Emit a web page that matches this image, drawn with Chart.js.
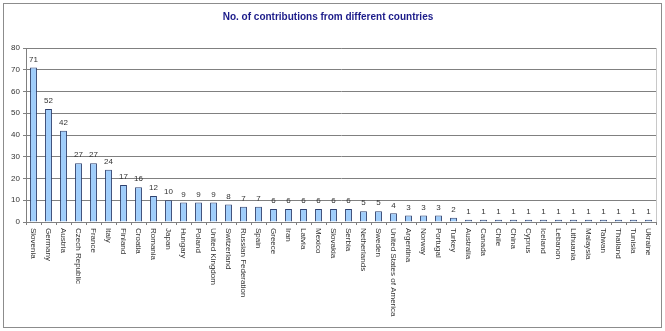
<!DOCTYPE html>
<html>
<head>
<meta charset="utf-8">
<script src="https://cdn.jsdelivr.net/npm/chart.js@4"></script>
<style>
  html, body { margin: 0; padding: 0; background: #fff; }
  #wrap { width: 665px; height: 331px; }
</style>
</head>
<body>
<div id="wrap"><canvas id="graph"></canvas></div>
<script>
const countries = [
  "Slovenia", "Germany", "Austria", "Czech Republic", "France", "Italy", "Finland",
  "Croatia", "Romania", "Japan", "Hungary", "Poland", "United Kingdom", "Switzerland",
  "Russian Federation", "Spain", "Greece", "Iran", "Latvia", "Mexico", "Slovakia",
  "Serbia", "Netherlands", "Sweden", "United States of America", "Argentina", "Norway",
  "Portugal", "Turkey", "Australia", "Canada", "Chile", "China", "Cyprus", "Iceland",
  "Lebanon", "Lithuania", "Malaysia", "Taiwan", "Thailand", "Tunisia", "Ukraine"
];
const contributions = [
  71, 52, 42, 27, 27, 24, 17, 16, 12, 10, 9, 9, 9, 8, 7, 7, 6, 6, 6, 6, 6,
  6, 5, 5, 4, 3, 3, 3, 2, 1, 1, 1, 1, 1, 1, 1, 1, 1, 1, 1, 1, 1
];
const yTicks = [0, 10, 20, 30, 40, 50, 60, 70, 80];

const font = "'Liberation Sans', Arial, sans-serif";
const textGray = "#333";

// frame + plot area border, drawn before everything else
const framePlugin = {
  id: "frame",
  beforeDraw(chart) {
    const { ctx, chartArea: a } = chart;
    ctx.save();
    ctx.strokeStyle = "#8c8c8c";
    ctx.lineWidth = 1;
    ctx.strokeRect(3.5, 3.5, 658, 324);
    ctx.strokeStyle = "#c8c8c8";
    ctx.strokeRect(a.left + 0.5, a.top + 0.5, a.right - a.left, a.bottom - a.top);
    ctx.restore();
  },
};

// value labels above bars and rotated country names below the axis
const labelsPlugin = {
  id: "labels",
  afterDraw(chart) {
    const { ctx } = chart;
    const meta = chart.getDatasetMeta(0);
    const xScale = chart.scales.x;
    ctx.save();
    ctx.fillStyle = textGray;
    ctx.font = "8px " + font;
    ctx.textAlign = "center";
    ctx.textBaseline = "bottom";
    meta.data.forEach((bar, i) => {
      ctx.fillText(String(contributions[i]), bar.x, bar.y - 4);
    });
    ctx.textAlign = "left";
    ctx.textBaseline = "middle";
    countries.forEach((name, i) => {
      const x = xScale.getPixelForValue(i);
      ctx.save();
      ctx.translate(x, xScale.top + 6);
      ctx.rotate(Math.PI / 2);
      ctx.fillText(name, 0, 0);
      ctx.restore();
    });
    ctx.restore();
  },
};

new Chart(document.getElementById("graph"), {
  type: "bar",
  data: {
    labels: countries,
    datasets: [
      {
        label: "Contributions",
        data: contributions,
        backgroundColor: "#9fcdfb",
        borderColor: "#2f4270",
        borderWidth: 1,
        borderSkipped: "bottom",
        categoryPercentage: 1,
        barPercentage: 0.46,
      },
    ],
  },
  options: {
    responsive: true,
    maintainAspectRatio: false,
    animation: false,
    layout: { padding: { left: 0, right: 9, top: 0, bottom: 0 } },
    plugins: {
      legend: { display: false },
      tooltip: { enabled: false },
      title: {
        display: true,
        text: "No. of contributions from different countries",
        color: "#1c1c8a",
        font: { family: font, size: 10, weight: "bold" },
        padding: { top: 11, bottom: 25 },
      },
    },
    scales: {
      x: {
        grid: {
          offset: true,
          drawOnChartArea: false,
          drawTicks: true,
          tickLength: 3,
          color: "#808080",
        },
        border: { color: "#808080" },
        ticks: { display: false },
        afterFit(scale) {
          scale.height = 109;
        },
      },
      y: {
        min: 0,
        max: 80,
        afterBuildTicks(scale) {
          scale.ticks = yTicks.map((v) => ({ value: v }));
        },
        grid: {
          color: "#808080",
          tickLength: 3,
        },
        border: { color: "#808080" },
        ticks: {
          color: textGray,
          font: { family: font, size: 8 },
          padding: 3,
        },
        afterFit(scale) {
          scale.width = 26;
        },
      },
    },
  },
  plugins: [framePlugin, labelsPlugin],
});
</script>
</body>
</html>
